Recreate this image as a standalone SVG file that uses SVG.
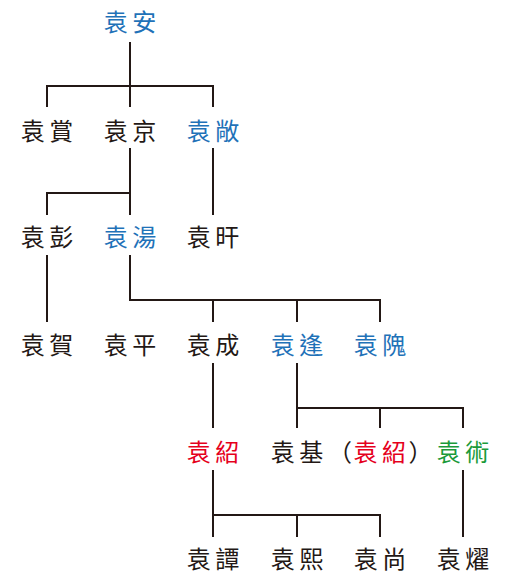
<svg xmlns="http://www.w3.org/2000/svg" width="510" height="581" viewBox="0 0 510 581">
<style>
text{font-family:"Noto Sans CJK TC","Noto Sans CJK JP",sans-serif;font-size:24px;letter-spacing:4.5px;fill:#231815}
.b{fill:#1f72b8}
.r{fill:#e5001c}
.g{fill:#1a9a3a}
.t{letter-spacing:1.5px}
.t2{letter-spacing:2.5px}
.c path{fill:none;stroke:#231815;stroke-width:2}
</style>
<rect width="510" height="581" fill="#fff"/>
<g class="c" id="connectors">
<path d="M130 42V86M47 107V86H213V107M130 86V107"/>
<path d="M130 148V215M47 215V193H130"/>
<path d="M213 148V215"/>
<path d="M47 255V322"/>
<path d="M130 255V300H380V322M213 300V322M297 300V322"/>
<path d="M213 363V428"/>
<path d="M297 363V428M297 408H463V428M380 408V428"/>
<path d="M213 470V537M213 515H380V537M297 515V537"/>
<path d="M463 470V537"/>
</g>
<g id="n-yuanan"><text class="b" x="103.75" y="30.5">袁安</text></g>
<g id="n-yuanshang1"><text x="20.75" y="139.5">袁賞</text></g>
<g id="n-yuanjing"><text x="103.75" y="139.5">袁京</text></g>
<g id="n-yuanchang"><text class="b" x="186.75" y="139.5">袁敞</text></g>
<g id="n-yuanpeng"><text x="20.75" y="245.5">袁彭</text></g>
<g id="n-yuantang"><text class="b" x="103.75" y="245.5">袁湯</text></g>
<g id="n-yuangan"><text x="186.75" y="245.5">袁旰</text></g>
<g id="n-yuanhe"><text x="20.75" y="353.5">袁賀</text></g>
<g id="n-yuanping"><text x="103.75" y="353.5">袁平</text></g>
<g id="n-yuancheng"><text x="186.75" y="353.5">袁成</text></g>
<g id="n-yuanfeng"><text class="b" x="270.75" y="353.5">袁逢</text></g>
<g id="n-yuanwei"><text class="b" x="353.75" y="353.5">袁隗</text></g>
<g id="n-yuanshao"><text class="r" x="186.75" y="460.5">袁紹</text></g>
<g id="n-yuanji"><text x="270.75" y="460.5">袁基</text></g>
<g id="n-yuanshao2"><text x="328" y="460.5"><tspan class="t">（</tspan><tspan class="r">袁<tspan class="t2">紹</tspan></tspan>）</text></g>
<g id="n-yuanshu"><text class="g" x="436.75" y="460.5">袁術</text></g>
<g id="n-yuantan"><text x="186.75" y="567.5">袁譚</text></g>
<g id="n-yuanxi"><text x="270.75" y="567.5">袁熙</text></g>
<g id="n-yuanshang2"><text x="353.75" y="567.5">袁尚</text></g>
<g id="n-yuanyao"><text x="436.75" y="567.5">袁燿</text></g>
</svg>
